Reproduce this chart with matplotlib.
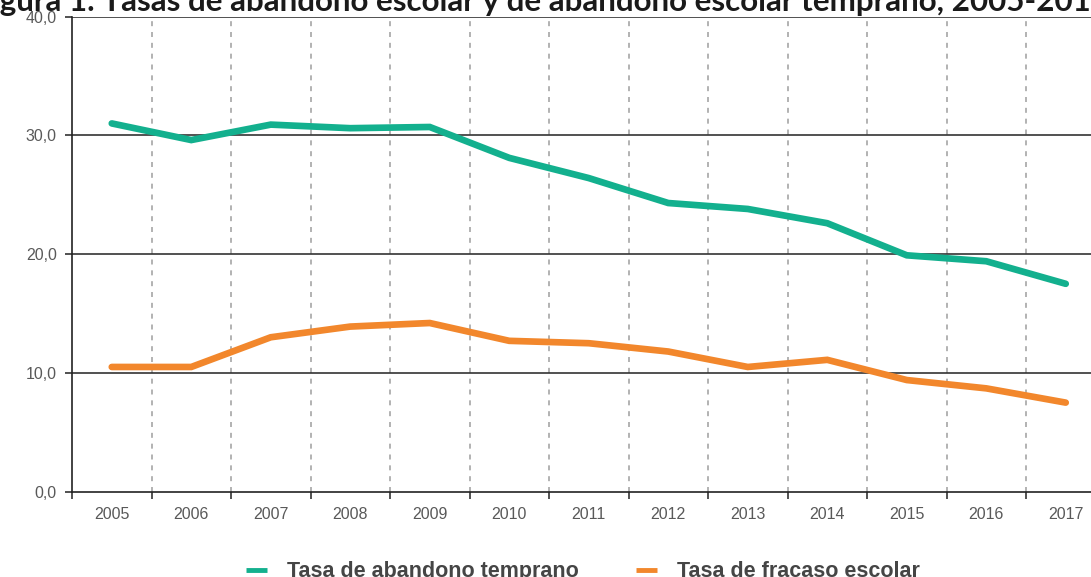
import numpy as np
import matplotlib
matplotlib.use("Agg")
import matplotlib.pyplot as plt
from matplotlib.ticker import FixedLocator

# data
years = ["2005", "2006", "2007", "2008", "2009", "2010", "2011",
         "2012", "2013", "2014", "2015", "2016", "2017"]
abandono_temprano = [31.0, 29.6, 30.9, 30.6, 30.7, 28.1, 26.4,
                     24.3, 23.8, 22.6, 19.9, 19.4, 17.5]
fracaso_escolar = [10.5, 10.5, 13.0, 13.9, 14.2, 12.7, 12.5,
                   11.8, 10.5, 11.1, 9.4, 8.7, 7.5]
yticks = [0, 10, 20, 30, 40]
ytick_labels = ["0,0", "10,0", "20,0", "30,0", "40,0"]
title = "Figura 1. Tasas de abandono escolar y de abandono escolar temprano, 2005-2017"

green = "#13B08E"
orange = "#F2872C"
tick_col = "#595959"

plt.rcParams["font.family"] = ["Liberation Sans", "DejaVu Sans"]

W, H = 1091, 577
fig = plt.figure(figsize=(W / 100, H / 100), dpi=100)
ax = fig.add_axes([0.066, 0.1478, 0.9473, 0.8236])

x = np.arange(len(years))
ax.plot(x, abandono_temprano, color=green, lw=4.8, solid_capstyle="round",
        solid_joinstyle="miter", label="Tasa de abandono temprano", zorder=4)
ax.plot(x, fracaso_escolar, color=orange, lw=4.8, solid_capstyle="round",
        solid_joinstyle="miter", label="Tasa de fracaso escolar", zorder=4)

ax.set_xlim(-0.5, len(years) - 0.5)
ax.set_ylim(0, 40)

# horizontal solid gridlines
for v in yticks[1:]:
    ax.axhline(v, color="#222222", lw=1.1, zorder=2)
# dashed category separators
for b in np.arange(0.5, len(years) - 0.5, 1.0):
    ax.axvline(b, color="#A6A6A6", lw=1.2, ls=(0, (3, 3.5)), zorder=1)

ax.set_xticks(x)
ax.set_xticklabels(years)
ax.xaxis.set_minor_locator(FixedLocator(np.arange(-0.5, len(years), 1.0)))
ax.tick_params(axis="x", which="major", length=0, pad=11,
               labelsize=11.5, labelcolor=tick_col)
ax.tick_params(axis="x", which="minor", length=5, width=1.1,
               direction="out", color="#222222")
ax.set_yticks(yticks)
ax.set_yticklabels(ytick_labels)
ax.tick_params(axis="y", length=5, width=1.1, color="#222222", pad=6,
               labelsize=11.5, labelcolor=tick_col)

for s in ["top", "right"]:
    ax.spines[s].set_visible(False)
for s in ["left", "bottom"]:
    ax.spines[s].set_color("#222222")
    ax.spines[s].set_linewidth(1.2)

leg = fig.legend(loc="center", bbox_to_anchor=(0.534, 0.009), ncol=2,
                 frameon=False, handlelength=1.0, handletextpad=0.9,
                 columnspacing=2.67,
                 prop={"weight": "bold", "size": 15.5})
for t in leg.get_texts():
    t.set_color("#454545")
for h in leg.get_lines():
    h.set_linewidth(3.5)
    h.set_solid_capstyle("butt")

# title is clipped on both sides in the reference: size it so that
# "gura ... 201" spans the full width
r = fig.canvas.get_renderer()
tfont = dict(fontweight="bold", family=["Lato", "DejaVu Sans"])
probe = fig.text(0, 0, title[2:-1], fontsize=22, **tfont)
fs = 22 * W / probe.get_window_extent(r).width
probe.remove()
probe = fig.text(0, 0, "Fi", fontsize=fs, **tfont)
w_fi = probe.get_window_extent(r).width
probe.remove()

fig.text(-w_fi / W, 0.981, title, ha="left", va="baseline", fontsize=fs,
         color="#1A1A1A", **tfont)

fig.savefig("out.png", dpi=100)
